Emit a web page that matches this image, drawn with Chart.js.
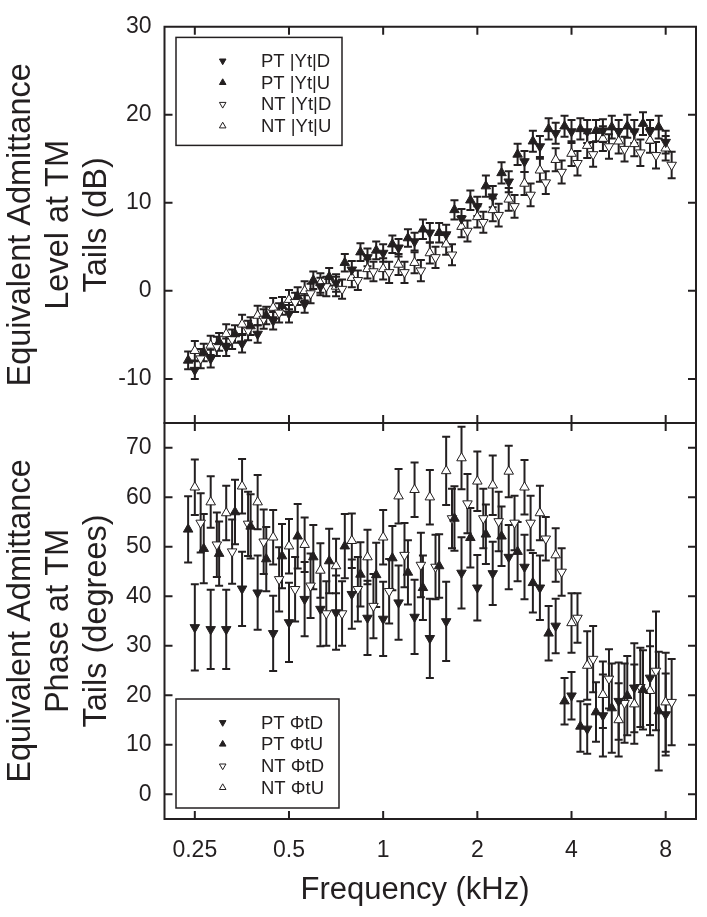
<!DOCTYPE html>
<html>
<head>
<meta charset="utf-8">
<script src="https://cdn.jsdelivr.net/npm/chart.js@4.4.1/dist/chart.umd.min.js"></script>
<style>
  html, body { margin: 0; padding: 0; background: #fff; }
  #myChart { display: block; }
</style>
</head>
<body>
<canvas id="myChart" width="707" height="917"></canvas>
<script>
// frequency grids (kHz), each series sits on its own slightly shifted 1/6-octave grid
const freqPTD = [0.25, 0.281, 0.315, 0.354, 0.397, 0.445, 0.5, 0.561, 0.63, 0.707, 0.794, 0.891, 1, 1.12, 1.26, 1.41, 1.59, 1.78, 2, 2.24, 2.52, 2.83, 3.17, 3.56, 4, 4.49, 5.04, 5.66, 6.35, 7.13, 8];
const freqPTU = [0.238, 0.267, 0.299, 0.336, 0.377, 0.423, 0.475, 0.533, 0.598, 0.672, 0.754, 0.846, 0.95, 1.07, 1.2, 1.34, 1.51, 1.69, 1.9, 2.13, 2.39, 2.69, 3.01, 3.38, 3.8, 4.27, 4.79, 5.38, 6.03, 6.77, 7.6];
const freqNTU = [0.25, 0.281, 0.315, 0.354, 0.397, 0.445, 0.5, 0.561, 0.63, 0.707, 0.794, 0.891, 1, 1.12, 1.26, 1.41, 1.59, 1.78, 2, 2.24, 2.52, 2.83, 3.17, 3.56, 4, 4.49, 5.04, 5.66, 6.35, 7.13, 8];
const freqNTD = [0.261, 0.294, 0.329, 0.37, 0.415, 0.465, 0.523, 0.586, 0.658, 0.739, 0.83, 0.931, 1.045, 1.17, 1.32, 1.47, 1.66, 1.86, 2.09, 2.34, 2.63, 2.96, 3.31, 3.72, 4.18, 4.69, 5.27, 5.91, 6.64, 7.45, 8.36];

// top panel: level (dB)
const levelPTD = [-9.0, -7.7, -6.4, -6.0, -4.9, -3.4, -2.6, -1.5, 0.5, 0.9, 2.4, 3.8, 4.3, 4.9, 5.6, 6.6, 6.4, 8.2, 9.6, 10.7, 12.4, 14.7, 16.4, 17.9, 18.1, 18.1, 18.2, 18.1, 18.1, 18.1, 16.9];
const levelPTU = [-7.9, -7.0, -5.8, -4.9, -4.0, -2.8, -1.7, -0.6, 1.2, 1.6, 3.2, 4.4, 4.6, 5.3, 6.0, 7.0, 6.6, 9.2, 10.3, 11.9, 13.4, 15.5, 17.0, 18.4, 18.7, 18.4, 18.2, 18.6, 18.7, 19.0, 18.6];
const levelNTD = [-7.7, -6.3, -5.5, -4.5, -3.2, -2.5, -1.3, -0.3, 0.5, 0.2, 1.2, 2.2, 2.1, 2.1, 2.3, 3.8, 4.1, 6.8, 7.8, 8.6, 9.6, 10.9, 12.3, 13.5, 14.5, 15.5, 16.4, 16.1, 15.7, 15.4, 14.3];
const levelNTU = [-6.8, -6.2, -4.9, -3.8, -2.8, -1.9, -1.0, 0.0, 0.9, 0.5, 1.5, 2.5, 2.5, 3.0, 3.2, 4.3, 5.3, 7.3, 8.4, 9.2, 10.4, 12.2, 13.7, 14.9, 15.6, 16.5, 17.3, 17.0, 16.7, 17.1, 16.2];
const levelPTDerr = [1.0, 1.0, 1.0, 1.0, 1.0, 1.0, 1.0, 1.0, 1.0, 1.0, 1.0, 1.0, 1.0, 1.0, 1.0, 1.1, 1.1, 1.1, 1.1, 1.2, 1.2, 1.2, 1.2, 1.2, 1.3, 1.3, 1.3, 1.3, 1.3, 1.3, 1.3];
const levelPTUerr = [1.0, 1.0, 1.0, 1.0, 1.0, 1.0, 1.0, 1.0, 1.0, 1.0, 1.0, 1.0, 1.0, 1.0, 1.0, 1.1, 1.1, 1.1, 1.1, 1.2, 1.2, 1.2, 1.2, 1.2, 1.2, 1.2, 1.2, 1.3, 1.3, 1.3, 1.3];
const levelNTDerr = [1.1, 1.1, 1.1, 1.1, 1.1, 1.1, 1.1, 1.1, 1.1, 1.1, 1.1, 1.1, 1.2, 1.2, 1.2, 1.2, 1.2, 1.2, 1.2, 1.3, 1.3, 1.3, 1.3, 1.3, 1.4, 1.4, 1.4, 1.4, 1.5, 1.5, 1.5];
const levelNTUerr = [1.1, 1.1, 1.1, 1.1, 1.1, 1.1, 1.1, 1.1, 1.1, 1.1, 1.1, 1.1, 1.2, 1.2, 1.2, 1.2, 1.2, 1.2, 1.2, 1.3, 1.3, 1.3, 1.3, 1.3, 1.4, 1.4, 1.4, 1.4, 1.4, 1.4, 1.4];

// bottom panel: phase (degrees)
const phasePTD = [33.7, 33.3, 33.3, 41.5, 40.7, 32.5, 34.7, 39.4, 37.4, 36.7, 40.4, 35.6, 35.4, 38.7, 35.8, 31.5, 34.9, 44.7, 41.7, 44.6, 47.9, 45.9, 41.7, 34.0, 19.9, 13.2, 15.9, 18.8, 21.5, 23.5, 16.1];
const phasePTU = [53.5, 49.6, 48.6, 57.0, 54.1, 47.5, 48.1, 52.1, 47.9, 47.1, 50.1, 44.4, 44.3, 47.7, 44.8, 41.7, 46.1, 55.7, 51.8, 52.5, 52.1, 49.0, 42.7, 32.5, 18.8, 13.7, 16.6, 17.4, 19.9, 21.1, 16.8];
const phaseNTD = [54.8, 50.4, 49.0, 54.6, 51.0, 43.4, 41.4, 42.1, 36.5, 36.5, 41.4, 38.0, 41.0, 48.3, 46.3, 45.9, 55.7, 58.7, 55.7, 55.1, 54.8, 54.8, 51.6, 44.9, 35.6, 27.3, 23.3, 18.4, 21.6, 24.9, 18.6];
const phaseNTU = [62.0, 59.0, 56.8, 62.2, 59.0, 51.9, 50.1, 50.4, 45.2, 46.1, 51.2, 47.9, 51.9, 60.2, 61.5, 60.0, 65.3, 67.9, 63.2, 62.4, 65.2, 62.0, 56.8, 48.3, 34.6, 26.0, 20.1, 15.0, 18.2, 20.9, 18.6];
const phasePTDerr = [8.7, 8.0, 8.0, 7.5, 7.5, 7.6, 8.0, 7.5, 7.5, 7.5, 7.0, 7.5, 7.5, 7.5, 7.5, 8.0, 8.0, 7.2, 6.6, 6.4, 6.5, 6.5, 6.5, 5.5, 4.8, 5.0, 8.3, 7.8, 9.0, 9.5, 8.3];
const phasePTUerr = [6.7, 7.0, 6.5, 6.5, 6.5, 6.5, 6.5, 6.5, 6.5, 6.5, 6.5, 6.5, 6.5, 6.5, 6.5, 6.5, 6.4, 6.5, 6.0, 6.0, 6.0, 6.0, 6.0, 5.5, 4.7, 5.1, 6.0, 9.0, 8.0, 8.0, 12.0];
const phaseNTDerr = [6.0, 6.5, 6.5, 6.5, 6.5, 6.5, 6.5, 6.5, 6.5, 6.5, 6.5, 6.5, 6.5, 6.5, 6.5, 6.5, 6.0, 6.0, 6.0, 6.0, 5.5, 5.5, 4.4, 4.8, 5.0, 6.7, 6.0, 8.0, 8.0, 12.0, 8.7];
const phaseNTUerr = [5.6, 5.2, 5.5, 5.5, 5.5, 5.5, 5.5, 5.5, 5.5, 5.5, 5.5, 5.5, 5.5, 5.5, 5.5, 5.5, 6.9, 6.3, 6.0, 6.0, 5.2, 5.5, 5.5, 5.4, 6.0, 6.9, 6.7, 7.4, 8.0, 9.0, 10.0];

const xTicks = [0.25, 0.5, 1, 2, 4, 8];
const levelTicks = [-10, 0, 10, 20, 30];
const phaseTicks = [0, 10, 20, 30, 40, 50, 60, 70];

const ink = "#231f20";
const FONT = "'Liberation Sans', Arial, Helvetica, sans-serif";
Chart.defaults.font.family = FONT;
Chart.defaults.color = ink;

function series(label, freqs, vals, errs, axis, filled, down) {
  return {
    label,
    data: freqs.map((f, i) => ({ x: f, y: vals[i] })),
    errors: errs,
    yAxisID: axis,
    pointStyle: "triangle",
    rotation: down ? 180 : 0,
    pointRadius: 5.5,
    pointHoverRadius: 5.5,
    pointBackgroundColor: filled ? ink : "#fff",
    pointBorderColor: ink,
    pointBorderWidth: 1,
    showLine: false
  };
}

const datasets = [
  series("PT |Yt|D", freqPTD, levelPTD, levelPTDerr, "y1", true, true),
  series("PT |Yt|U", freqPTU, levelPTU, levelPTUerr, "y1", true, false),
  series("NT |Yt|D", freqNTD, levelNTD, levelNTDerr, "y1", false, true),
  series("NT |Yt|U", freqNTU, levelNTU, levelNTUerr, "y1", false, false),
  series("PT \u03A6tD", freqPTD, phasePTD, phasePTDerr, "y2", true, true),
  series("PT \u03A6tU", freqPTU, phasePTU, phasePTUerr, "y2", true, false),
  series("NT \u03A6tD", freqNTD, phaseNTD, phaseNTDerr, "y2", false, true),
  series("NT \u03A6tU", freqNTU, phaseNTU, phaseNTUerr, "y2", false, false)
];

function drawTri(ctx, x, y, r, down, filled) {
  const s = down ? -1 : 1;
  ctx.beginPath();
  ctx.moveTo(x, y - s * r);
  ctx.lineTo(x + r * 0.866, y + s * r * 0.5);
  ctx.lineTo(x - r * 0.866, y + s * r * 0.5);
  ctx.closePath();
  ctx.fillStyle = filled ? ink : "#fff";
  ctx.fill();
  ctx.strokeStyle = ink;
  ctx.lineWidth = 1;
  ctx.stroke();
}

const panelPlugin = {
  id: "panels",
  beforeDatasetsDraw(chart) {
    const ctx = chart.ctx, area = chart.chartArea;
    chart.data.datasets.forEach((ds, i) => {
      const meta = chart.getDatasetMeta(i);
      const ys = chart.scales[ds.yAxisID];
      ctx.save();
      ctx.beginPath();
      ctx.rect(area.left, ys.top, area.right - area.left, ys.bottom - ys.top);
      ctx.clip();
      ctx.strokeStyle = ink;
      ctx.lineWidth = 2;
      meta.data.forEach((el, j) => {
        const v = ds.data[j].y, e = ds.errors[j];
        const y0 = ys.getPixelForValue(v - e), y1 = ys.getPixelForValue(v + e);
        ctx.beginPath();
        ctx.moveTo(el.x, y0); ctx.lineTo(el.x, y1);
        ctx.moveTo(el.x - 4, y0); ctx.lineTo(el.x + 4, y0);
        ctx.moveTo(el.x - 4, y1); ctx.lineTo(el.x + 4, y1);
        ctx.stroke();
      });
      ctx.restore();
    });
  },
  afterDatasetsDraw(chart) {
    const ctx = chart.ctx, area = chart.chartArea, xs = chart.scales.x;
    const tl = 8;
    ctx.save();
    ctx.strokeStyle = ink;
    ctx.lineWidth = 2;
    ["y1", "y2"].forEach(id => {
      const ys = chart.scales[id];
      ctx.beginPath();
      ctx.rect(area.left, ys.top, area.right - area.left, ys.bottom - ys.top);
      ys.ticks.forEach(t => {
        const y = ys.getPixelForValue(t.value);
        ctx.moveTo(area.left, y); ctx.lineTo(area.left + tl, y);
        ctx.moveTo(area.right, y); ctx.lineTo(area.right - tl, y);
      });
      xs.ticks.forEach(t => {
        const x = xs.getPixelForValue(t.value);
        ctx.moveTo(x, ys.top); ctx.lineTo(x, ys.top + tl);
        ctx.moveTo(x, ys.bottom); ctx.lineTo(x, ys.bottom - tl);
      });
      ctx.stroke();
    });

    // legends, one per panel, boxed inside the plot
    const boxes = [
      { axis: "y1", x: area.left + 11.5, y: chart.scales.y1.top + 10.6, w: 166, h: 108 },
      { axis: "y2", x: area.left + 11.5, y: chart.scales.y2.bottom - 120, w: 163, h: 109 }
    ];
    boxes.forEach(b => {
      ctx.lineWidth = 1.5;
      ctx.fillStyle = "#fff";
      ctx.fillRect(b.x, b.y, b.w, b.h);
      ctx.strokeRect(b.x, b.y, b.w, b.h);
      const items = chart.data.datasets.filter(d => d.yAxisID === b.axis);
      items.forEach((d, k) => {
        const cy = b.y + 23.5 + k * 21.7;
        drawTri(ctx, b.x + 46.7, cy, 3.8, d.rotation === 180, d.pointBackgroundColor === ink);
        ctx.fillStyle = ink;
        ctx.font = "18.5px " + FONT;
        ctx.textAlign = "left";
        ctx.textBaseline = "middle";
        ctx.fillText(d.label, b.x + 85, cy + 1);
      });
    });

    // x axis title
    ctx.fillStyle = ink;
    ctx.font = "31px " + FONT;
    ctx.textAlign = "center";
    ctx.textBaseline = "alphabetic";
    ctx.fillText("Frequency (kHz)", 415, 899);
    ctx.restore();
  }
};

const yTitleFont = { size: 32.5, lineHeight: 1.18 };

new Chart(document.getElementById("myChart"), {
  type: "scatter",
  data: { datasets },
  options: {
    responsive: false,
    animation: false,
    events: [],
    layout: { padding: { left: 0, right: 11, top: 23, bottom: 0 } },
    plugins: { legend: { display: false }, tooltip: { enabled: false } },
    scales: {
      x: {
        type: "logarithmic",
        position: "bottom",
        min: 0.2,
        max: 10,
        grid: { display: false, drawTicks: false },
        border: { display: false },
        afterBuildTicks: s => { s.ticks = xTicks.map(v => ({ value: v })); },
        afterFit: s => { s.height = 98; },
        ticks: { font: { size: 23 }, padding: 18, maxRotation: 0, autoSkip: false, callback: v => String(v) }
      },
      y2: {
        type: "linear",
        position: "left",
        stack: "panels",
        stackWeight: 1,
        min: -5,
        max: 75,
        grid: { display: false, drawTicks: false },
        border: { display: false },
        afterBuildTicks: s => { s.ticks = phaseTicks.map(v => ({ value: v })); },
        afterFit: s => { s.width = 164.5; },
        ticks: { font: { size: 23 }, padding: 13 },
        title: { display: true, text: ["Equivalent Admittance", "Phase at TM", "Tails (degrees)"], font: yTitleFont, padding: { top: 1.5, bottom: 0 } }
      },
      y1: {
        type: "linear",
        position: "left",
        stack: "panels",
        stackWeight: 1,
        min: -15,
        max: 30,
        grid: { display: false, drawTicks: false },
        border: { display: false },
        afterBuildTicks: s => { s.ticks = levelTicks.map(v => ({ value: v })); },
        afterFit: s => { s.width = 164.5; },
        ticks: { font: { size: 23 }, padding: 13 },
        title: { display: true, text: ["Equivalent Admittance", "Level at TM", "Tails (dB)"], font: yTitleFont, padding: { top: 1.5, bottom: 0 } }
      }
    }
  },
  plugins: [panelPlugin]
});
</script>
</body>
</html>
